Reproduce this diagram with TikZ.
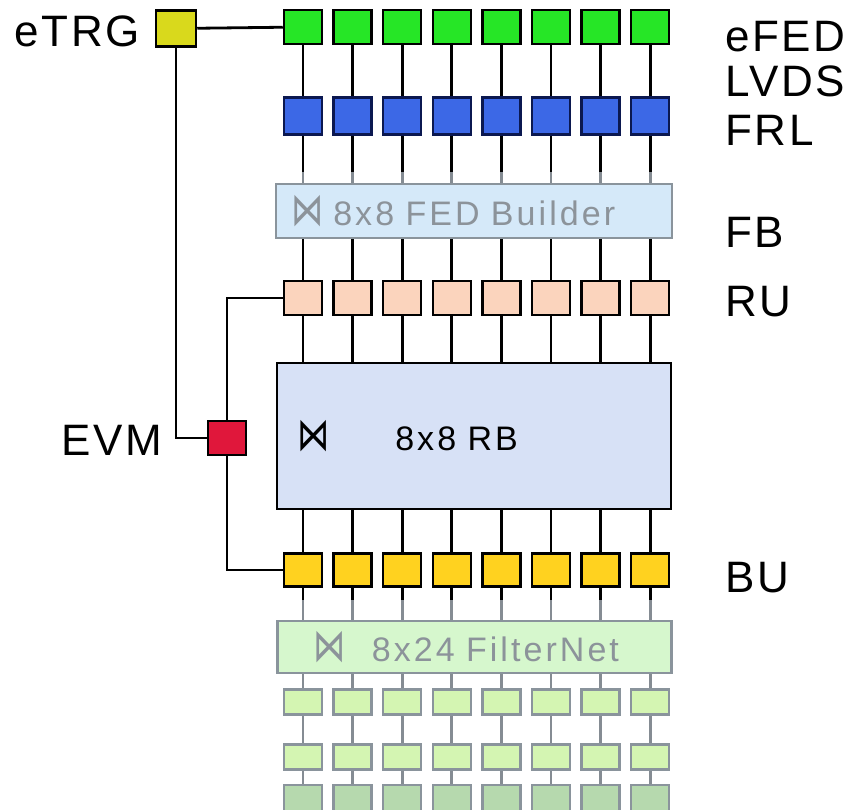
\documentclass[tikz,border=0pt]{standalone}
\usepackage{fontspec}
\setmainfont{Liberation Sans}
\newfontfamily\symfont{DejaVu Sans}
\usepackage{xcolor}
\usepackage{graphicx}
\definecolor{TrgYellow}{HTML}{D9D91C}
\definecolor{FedGreen}{HTML}{26E626}
\definecolor{FrlBlue}{HTML}{3C68E6}
\definecolor{FrlEdge}{HTML}{0B1850}
\definecolor{RuPeach}{HTML}{FBD4BD}
\definecolor{EvmRed}{HTML}{E0173B}
\definecolor{BuGold}{HTML}{FFD21F}
\definecolor{FbBlue}{HTML}{D5E9F9}
\definecolor{RbBlue}{HTML}{D7E1F6}
\definecolor{FnGreen}{HTML}{D6F7CD}
\definecolor{FuLime}{HTML}{D4F5B2}
\definecolor{FuSage}{HTML}{B6D9AE}
\definecolor{GrayEdge}{HTML}{8A949C}
\definecolor{GrayText}{HTML}{8C939A}
\definecolor{WireGray}{HTML}{858C93}
\usetikzlibrary{calc, backgrounds}

\newcommand\tagfont{\fontsize{44}{46}\selectfont\addfontfeatures{LetterSpace=6}}
\newcommand\barfont{\fontsize{34}{36}\selectfont\addfontfeatures{LetterSpace=9}}
\newcommand\swmark{\scalebox{0.95}[1.35]{\symfont ⋈}}

\begin{document}
\begin{tikzpicture}[
  x=1pt, y=-1pt,
  unit/.style={
    rectangle,
    draw=#1,
    line width=2.5pt,
    inner sep=0pt,
    minimum width=38pt,
    minimum height=34pt},
  unit/.default=black,
  bar/.style={
    rectangle,
    draw=#1,
    line width=2.5pt,
    inner ysep=0pt,
    align=left,
    font=\barfont},
  bar/.default=GrayEdge,
  tag/.style={
    font=\tagfont,
    inner sep=0pt},
  wire/.style={draw=black, line width=2.8pt},
  gwire/.style={draw=WireGray, line width=2.8pt},
]

\useasboundingbox (0,0) rectangle (859,809);

% trigger and event manager
\node[unit, fill=TrgYellow, minimum width=40pt, minimum height=36pt] (etrg) at (176,28.5) {};
\node[unit, fill=EvmRed, minimum width=38pt, minimum height=34pt] (evm) at (227,438) {};
\node[tag, anchor=east] (etrgtag) at (140,31) {eTRG};
\node[tag, anchor=east] (evmtag) at (162,440) {EVM};

% rows of units
\foreach \i in {1,...,8} {
  \node[unit, fill=FedGreen] (fed\i) at ({253.4+49.6*\i},27) {};
  \node[unit=FrlEdge, fill=FrlBlue, minimum height=37pt] (frl\i) at ({253.4+49.6*\i},116) {};
  \node[unit, fill=RuPeach] (ru\i) at ({253.4+49.6*\i},298) {};
  \node[unit, fill=BuGold, minimum height=33pt] (bu\i) at ({253.4+49.6*\i},570) {};
  \node[unit=GrayEdge, fill=FuLime, minimum height=25pt] (fua\i) at ({253.4+49.6*\i},702) {};
  \node[unit=GrayEdge, fill=FuLime, minimum height=25pt] (fub\i) at ({253.4+49.6*\i},757) {};
  \node[unit=GrayEdge, fill=FuSage, minimum height=26pt] (fuc\i) at ({253.4+49.6*\i},798) {};
}

% switching networks
\node[bar, fill=FbBlue, text=GrayText, text width=366pt, inner xsep=15pt,
      minimum height=54pt] (fb) at (474,211)
  {\swmark\hspace{10pt}8x8 FED Builder};
\node[bar=black, fill=RbBlue, text width=354pt, inner xsep=20pt,
      minimum height=146pt] (rb) at (474,436)
  {\swmark\hspace{66pt}8x8 RB};
\node[bar, fill=FnGreen, text=GrayText, text width=322pt, inner xsep=36pt,
      minimum height=52pt] (fn) at (474.5,647)
  {\swmark\hspace{26pt}8x24 FilterNet};

% layer names
\node[tag, anchor=west] (fedtag) at (725,37) {eFED};
\node[tag, anchor=west] (lvdstag) at (725,81) {LVDS};
\node[tag, anchor=west] (frltag) at (725,130) {FRL};
\node[tag, anchor=west] (fbtag) at (725,232) {FB};
\node[tag, anchor=west] (rutag) at (725,302) {RU};
\node[tag, anchor=west] (butag) at (725,578) {BU};

\begin{scope}[on background layer]
  \fill[white] (0,0) rectangle (859,809);
  \draw[wire] (etrg) -- (fed1);
  \draw[wire] (etrg) |- (evm);
  \draw[wire] (evm) |- (ru1);
  \draw[wire] (evm) |- (bu1);
  \foreach \i in {1,...,8} {
    \draw[wire] (fed\i) -- (frl\i);
    \draw[wire] (frl\i) -- (frl\i |- fb.north);
    \draw[gwire] ($(frl\i |- fb.north)+(0,-11)$) -- (frl\i |- fb.north);
    \draw[wire] (ru\i |- fb.south) -- (ru\i);
    \draw[wire] (ru\i) -- (ru\i |- rb.north);
    \draw[wire] (bu\i |- rb.south) -- (bu\i);
    \draw[gwire] (bu\i) -- (bu\i |- fn.north);
    \draw[wire] (bu\i.south) -- ++(0,12);
    \draw[gwire] (fua\i |- fn.south) -- (fua\i);
    \draw[gwire] (fua\i) -- (fub\i);
    \draw[gwire] (fub\i) -- (fuc\i);
  }
\end{scope}

\end{tikzpicture}
\end{document}
